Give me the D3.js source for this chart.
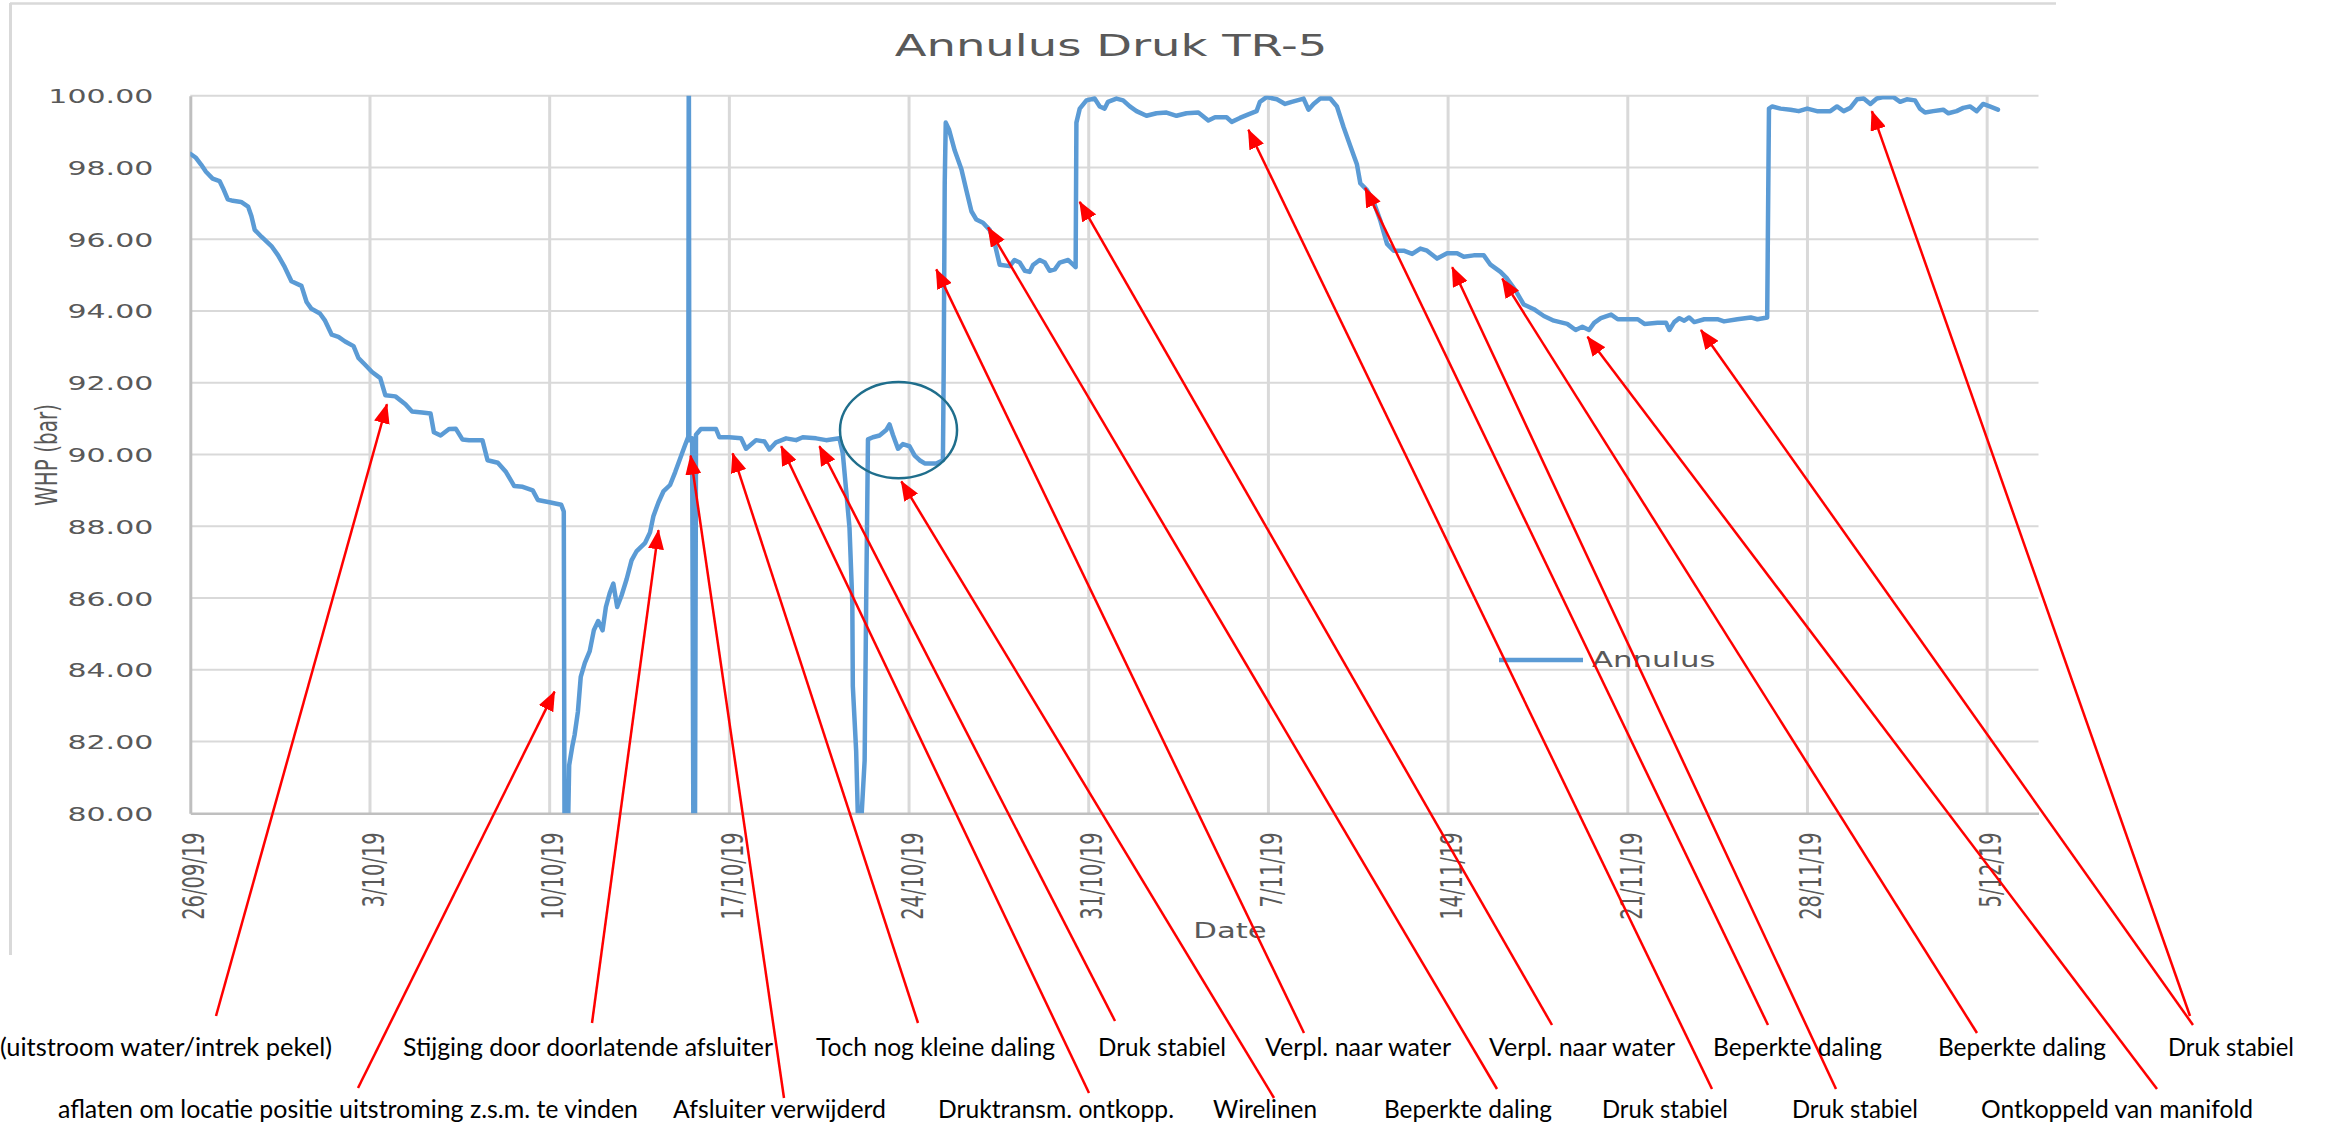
<!DOCTYPE html>
<html><head><meta charset="utf-8">
<script src="https://cdn.jsdelivr.net/npm/d3@7/dist/d3.min.js"></script>
<style>body{margin:0;background:#fff;overflow:hidden}</style>
</head><body>
<svg id="chart" width="2326" height="1127"></svg>
<script>
// ---------------- DATA ----------------
const chartTitle = "Annulus Druk TR-5";
const seriesName = "Annulus";
const yAxisTitle = "WHP (bar)";
const xAxisTitle = "Date";
const startDate = "2019-09-26";
const endDate = "2019-12-07";
const tickLabels = ["26/09/19","3/10/19","10/10/19","17/10/19","24/10/19","31/10/19","7/11/19","14/11/19","21/11/19","28/11/19","5/12/19"];
const yTicks = [80,82,84,86,88,90,92,94,96,98,100];
// days since 26/09/2019 00:00
const dayOffset = [0.00,0.22,0.42,0.61,0.87,1.14,1.27,1.46,1.66,1.98,2.25,2.38,2.51,2.77,3.16,3.42,3.68,3.94,4.33,4.53,4.72,5.05,5.25,5.51,5.77,6.03,6.36,6.55,6.81,7.08,7.40,7.60,7.99,8.38,8.64,9.03,9.36,9.49,9.75,10.08,10.34,10.60,10.86,11.38,11.58,11.98,12.30,12.62,12.95,13.34,13.54,13.99,14.45,14.55,14.58,14.70,14.76,14.88,14.97,15.10,15.21,15.37,15.56,15.72,15.89,16.06,16.19,16.34,16.48,16.63,16.80,17.00,17.19,17.39,17.72,17.91,18.04,18.24,18.43,18.69,18.89,19.09,19.28,19.40,19.42,19.44,19.55,19.60,19.66,19.70,19.89,20.48,20.61,21.00,21.46,21.65,22.04,22.37,22.56,22.82,23.21,23.60,23.86,24.38,24.77,25.29,25.42,25.55,25.68,25.79,25.81,25.94,26.01,26.14,26.27,26.33,26.40,26.59,26.85,27.11,27.24,27.37,27.57,27.76,28.02,28.22,28.41,28.61,29.06,29.32,29.35,29.39,29.43,29.56,29.78,30.04,30.23,30.43,30.62,30.88,31.14,31.34,31.53,31.92,32.11,32.31,32.51,32.70,32.83,33.09,33.29,33.48,33.68,33.87,34.20,34.39,34.49,34.52,34.65,34.91,35.23,35.43,35.62,35.75,36.08,36.34,36.60,36.86,37.25,37.64,38.03,38.42,38.81,39.27,39.66,39.92,40.37,40.57,40.89,41.22,41.54,41.67,41.93,42.33,42.65,42.91,43.37,43.56,43.76,44.02,44.41,44.67,44.93,45.19,45.45,45.58,45.84,46.10,46.36,46.62,46.88,47.27,47.60,47.92,48.18,48.57,48.96,49.35,49.61,50.00,50.39,50.65,51.04,51.30,51.63,51.95,52.34,52.73,53.12,53.64,53.97,54.23,54.49,54.69,54.95,55.35,55.61,56.00,56.39,56.65,57.16,57.49,57.62,57.81,58.01,58.20,58.39,58.59,58.98,59.49,59.75,60.27,60.79,61.05,61.43,61.50,61.63,61.95,62.34,62.66,62.99,63.37,63.89,64.15,64.41,64.67,64.93,65.19,65.45,65.70,65.96,66.35,66.61,66.87,67.19,67.38,67.58,67.90,68.29,68.49,68.81,69.07,69.33,69.59,69.84,70.10,70.42];
const pressure = [98.38,98.27,98.08,97.88,97.69,97.62,97.43,97.11,97.07,97.04,96.91,96.65,96.26,96.07,95.81,95.55,95.22,94.83,94.70,94.25,94.06,93.93,93.73,93.34,93.28,93.15,93.02,92.69,92.50,92.30,92.13,91.65,91.62,91.40,91.20,91.17,91.14,90.62,90.53,90.71,90.72,90.42,90.40,90.40,89.84,89.77,89.51,89.12,89.10,89.00,88.73,88.67,88.60,88.41,79.0,79.0,81.34,81.86,82.18,82.83,83.80,84.19,84.52,85.10,85.36,85.10,85.75,86.14,86.40,85.75,86.07,86.53,87.05,87.31,87.54,87.83,88.28,88.67,88.97,89.15,89.51,89.90,90.27,90.49,102.0,90.40,90.45,79.0,79.0,90.55,90.71,90.71,90.48,90.48,90.45,90.16,90.40,90.36,90.14,90.34,90.45,90.40,90.48,90.45,90.40,90.45,90.03,89.00,87.96,85.88,83.54,81.73,79.8,79.8,81.47,85.88,90.42,90.48,90.53,90.68,90.84,90.55,90.16,90.29,90.23,89.97,89.84,89.75,89.75,89.84,92.37,97.56,99.25,99.05,98.47,97.95,97.37,96.78,96.55,96.46,96.26,95.87,95.29,95.25,95.42,95.35,95.12,95.09,95.28,95.42,95.35,95.12,95.16,95.35,95.42,95.29,95.22,99.25,99.64,99.87,99.92,99.70,99.64,99.83,99.92,99.87,99.70,99.57,99.44,99.51,99.53,99.44,99.51,99.53,99.31,99.40,99.40,99.27,99.38,99.48,99.57,99.83,99.96,99.90,99.77,99.83,99.92,99.61,99.77,99.92,99.92,99.70,99.12,98.60,98.08,97.56,97.37,97.04,96.52,95.87,95.68,95.68,95.59,95.74,95.68,95.46,95.61,95.61,95.51,95.55,95.55,95.29,95.09,94.90,94.57,94.18,94.05,93.86,93.73,93.64,93.47,93.56,93.47,93.67,93.80,93.90,93.77,93.77,93.77,93.64,93.67,93.67,93.47,93.69,93.80,93.73,93.82,93.69,93.77,93.77,93.71,93.77,93.82,93.77,93.82,99.64,99.70,99.64,99.61,99.57,99.64,99.57,99.57,99.70,99.57,99.66,99.90,99.92,99.77,99.92,99.96,99.96,99.83,99.90,99.87,99.64,99.53,99.57,99.61,99.51,99.57,99.66,99.70,99.57,99.77,99.70,99.61];

// annotation texts
const noteText = ["(uitstroom water/intrek pekel)","Stijging door doorlatende afsluiter","Toch nog kleine daling","Druk stabiel","Verpl. naar water","Verpl. naar water","Beperkte daling","Beperkte daling","Druk stabiel","aflaten om locatie positie uitstroming z.s.m. te vinden","Afsluiter verwijderd","Druktransm. ontkopp.","Wirelinen","Beperkte daling","Druk stabiel","Druk stabiel","Ontkoppeld van manifold"];
// arrow targets in data units (label index, day offset, value)
const arrowNote = [0,9,1,10,2,11,3,12,4,13,5,14,6,15,7,16,8,8];
const arrowDay = [7.66,14.19,18.24,19.49,21.13,23.02,24.51,27.70,29.06,31.08,34.65,41.22,45.77,49.16,51.11,54.43,58.85,65.51];
const arrowValue = [91.40,83.39,87.89,89.97,90.03,90.23,90.23,89.25,95.16,96.33,97.04,99.05,97.43,95.22,94.90,93.28,93.47,99.57];
// highlighted region (ellipse) in data units
const circleDay = 27.59, circleValue = 90.68, circleHalfDays = 2.28, circleHalfBar = 1.34;

// ---------------- LAYOUT ----------------
const plot = {left:190.3, right:2038.5, top:95.7, bottom:813.3};
const STRETCH = 1.5; // horizontal stretch of the pasted chart picture
const chartFont = "'DejaVu Sans', Verdana, sans-serif";
const noteFont = "Lato, 'Open Sans', sans-serif";
const textGrey = "#595959";
// [x, row, width] for each annotation label
const noteLayout = [[0,0,332],[403,0,370],[816,0,239],[1098,0,128],[1265,0,186],[1489,0,186],[1713,0,169],[1938,0,168],[2168,0,126],
  [58,1,580],[673,1,213],[938,1,236],[1213,1,104],[1384,1,168],[1602,1,126],[1792,1,126],[1981,1,272]];
const rowBaseline = [1056,1118];
const arrowStart = [[216,1016],[358,1088],[592,1023],[784,1098],[918,1023],[1089,1093],[1115,1021],[1274,1098],[1304,1033],[1497,1089],[1552,1025],[1712,1089],[1768,1025],[1836,1089],[1977,1033],[2157,1089],[2193,1025],[2190,1016]];

// ---------------- DRAW ----------------
const svg = d3.select("#chart");
svg.append("rect").attr("width",2326).attr("height",1127).attr("fill","#fff");

const t0 = d3.utcParse("%Y-%m-%d")(startDate);
const toDate = d => new Date(t0.getTime() + d*864e5);
const x = d3.scaleUtc().domain([t0, d3.utcParse("%Y-%m-%d")(endDate)]).range([plot.left, plot.right]);
const y = d3.scaleLinear().domain([80,100]).range([plot.bottom, plot.top]);
const parseTick = d3.utcParse("%d/%m/%y");
const tickDates = tickLabels.map(parseTick);

// chart frame (top + left visible)
svg.append("line").attr("x1",10).attr("x2",2056).attr("y1",3.5).attr("y2",3.5).attr("stroke","#D9D9D9").attr("stroke-width",2.5);
svg.append("line").attr("x1",10.5).attr("x2",10.5).attr("y1",3).attr("y2",955).attr("stroke","#D9D9D9").attr("stroke-width",3);

// gridlines
svg.append("g").selectAll("line").data(yTicks.slice(1)).join("line")
  .attr("x1",plot.left).attr("x2",plot.right).attr("y1",d=>y(d)).attr("y2",d=>y(d))
  .attr("stroke","#D9D9D9").attr("stroke-width",2);
svg.append("g").selectAll("line").data(tickDates.slice(1)).join("line")
  .attr("x1",d=>x(d)).attr("x2",d=>x(d)).attr("y1",plot.top).attr("y2",plot.bottom)
  .attr("stroke","#D9D9D9").attr("stroke-width",3);

// axes
const yAxis = svg.append("g").attr("transform",`translate(${plot.left},0)`)
  .call(d3.axisLeft(y).tickValues(yTicks).tickFormat(d3.format(".2f")).tickSize(0));
yAxis.select(".domain").attr("stroke","#BFBFBF").attr("stroke-width",3);
yAxis.selectAll("text").attr("x",0).attr("dy","0.35em")
  .attr("transform",`translate(-37,0) scale(${STRETCH},1)`)
  .attr("font-family",chartFont).attr("font-size",20).attr("fill",textGrey).attr("text-anchor","end");

const xAxis = svg.append("g").attr("transform",`translate(0,${plot.bottom})`)
  .call(d3.axisBottom(x).tickValues(tickDates).tickFormat((d,i)=>tickLabels[i]).tickSize(0));
xAxis.select(".domain").attr("stroke","#BFBFBF").attr("stroke-width",2.5);
xAxis.selectAll("text").attr("x",0).attr("y",0).attr("dy","0.35em")
  .attr("transform",`translate(3,19) scale(${STRETCH},1) rotate(-90)`)
  .attr("font-family",chartFont).attr("font-size",19.5).attr("fill",textGrey).attr("text-anchor","end");

// data line (clipped to the plot area)
svg.append("clipPath").attr("id","plotClip").append("rect")
  .attr("x",plot.left).attr("y",plot.top).attr("width",plot.right-plot.left).attr("height",plot.bottom-plot.top);
const pts = dayOffset.map((d,i)=>[toDate(d), pressure[i]]);
svg.append("path").datum(pts).attr("clip-path","url(#plotClip)")
  .attr("d", d3.line().x(d=>x(d[0])).y(d=>y(d[1])))
  .attr("fill","none").attr("stroke","#5B9BD5").attr("stroke-width",4.5)
  .attr("stroke-linejoin","round").attr("stroke-linecap","round");

// titles
svg.append("text").text(chartTitle).attr("transform",`translate(1111,56) scale(${STRETCH},1)`)
  .attr("text-anchor","middle").attr("font-family",chartFont).attr("font-size",31).attr("fill",textGrey);
svg.append("text").text(xAxisTitle).attr("transform",`translate(1230,938) scale(${STRETCH},1)`)
  .attr("text-anchor","middle").attr("font-family",chartFont).attr("font-size",20.5).attr("fill",textGrey);
svg.append("text").text(yAxisTitle).attr("transform",`translate(46,455) scale(${STRETCH},1) rotate(-90)`)
  .attr("text-anchor","middle").attr("dy","0.35em").attr("font-family",chartFont).attr("font-size",20).attr("fill",textGrey);

// legend
svg.append("line").attr("x1",1499).attr("x2",1583).attr("y1",660).attr("y2",660).attr("stroke","#5B9BD5").attr("stroke-width",4.5);
svg.append("text").text(seriesName).attr("transform",`translate(1592,667) scale(${STRETCH},1)`)
  .attr("font-family",chartFont).attr("font-size",20.5).attr("fill",textGrey);

// highlight ellipse
svg.append("ellipse")
  .attr("cx",x(toDate(circleDay))).attr("cy",y(circleValue))
  .attr("rx",x(toDate(circleDay+circleHalfDays))-x(toDate(circleDay)))
  .attr("ry",y(circleValue)-y(circleValue+circleHalfBar))
  .attr("fill","none").attr("stroke","#1F6E8C").attr("stroke-width",2.5);

// arrows
const defs = svg.append("defs");
defs.append("marker").attr("id","arrowHead").attr("markerUnits","userSpaceOnUse")
  .attr("markerWidth",20).attr("markerHeight",16).attr("refX",19).attr("refY",8).attr("orient","auto")
  .append("path").attr("d","M0,0 L20,8 L0,16 Z").attr("fill","#FF0000");
svg.append("g").selectAll("line").data(arrowNote).join("line")
  .attr("x1",(d,i)=>arrowStart[i][0]).attr("y1",(d,i)=>arrowStart[i][1])
  .attr("x2",(d,i)=>x(toDate(arrowDay[i]))).attr("y2",(d,i)=>y(arrowValue[i]))
  .attr("stroke","#FF0000").attr("stroke-width",2.5).attr("marker-end","url(#arrowHead)");

// annotation labels
svg.append("g").selectAll("text").data(noteText).join("text")
  .text(d=>d)
  .attr("x",(d,i)=>noteLayout[i][0]).attr("y",(d,i)=>rowBaseline[noteLayout[i][1]])
  .attr("textLength",(d,i)=>noteLayout[i][2]).attr("lengthAdjust","spacingAndGlyphs")
  .attr("font-family",noteFont).attr("font-size",24.5).attr("fill","#000");
</script>
</body></html>
